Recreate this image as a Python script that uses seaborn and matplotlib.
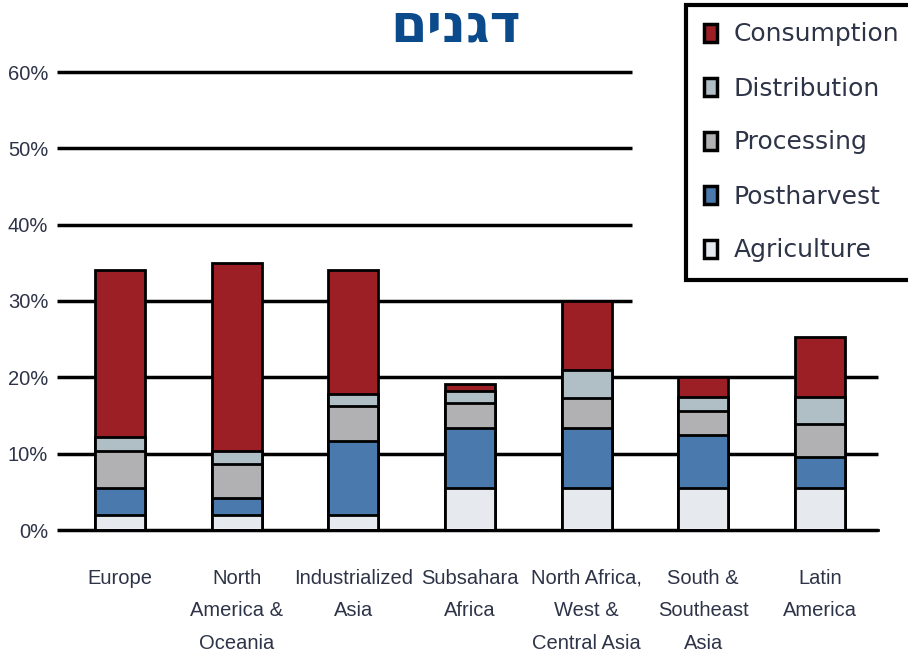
import matplotlib
matplotlib.use("Agg")
import matplotlib.pyplot as plt
from matplotlib.patches import Patch
import seaborn as sns
import pandas as pd
import numpy as np

regions = ["Europe", "North\nAmerica &\nOceania", "Industrialized\nAsia", "Subsahara\nAfrica",
           "North Africa,\nWest &\nCentral Asia", "South &\nSoutheast\nAsia", "Latin\nAmerica"]
stages = ["Agriculture", "Postharvest", "Processing", "Distribution", "Consumption"]
agriculture = [2.0, 2.0, 2.0, 5.5, 5.5, 5.5, 5.5]
postharvest = [3.5, 2.2, 9.7, 7.9, 7.9, 7.0, 4.0]
processing = [4.9, 4.4, 4.5, 3.2, 3.9, 3.1, 4.4]
distribution = [1.8, 1.8, 1.6, 1.6, 3.6, 1.8, 3.5]
consumption = [21.9, 24.6, 16.3, 0.9, 9.1, 2.6, 7.9]
yticks = [0, 10, 20, 30, 40, 50, 60]
ytick_labels = ["0%", "10%", "20%", "30%", "40%", "50%", "60%"]
title = "דגנים"

colors = {"Agriculture": "#e6eaee", "Postharvest": "#4a7aad", "Processing": "#b1b1b3",
          "Distribution": "#b0bec6", "Consumption": "#9b1f24"}

rows = []
series = [agriculture, postharvest, processing, distribution, consumption]
for i, reg in enumerate(regions):
    cum = 0
    for st, vals in zip(stages, series):
        cum += vals[i]
        rows.append({"region": reg, "stage": st, "value": vals[i], "cum": cum})
df = pd.DataFrame(rows)

sns.set_theme(style="white")
plt.rcParams["font.family"] = ["DejaVu Sans"]
tick_font = "Liberation Sans"
txt_color = "#2e3447"

fig = plt.figure(figsize=(9.08, 6.63), dpi=100)
ax = fig.add_axes([62 / 908, 1 - 530 / 663, (878 - 62) / 908, (530 - 72) / 663])

for st in reversed(stages):
    sub = df[df["stage"] == st]
    sns.barplot(data=sub, x="region", y="cum", order=regions, color=colors[st],
                width=0.43, edgecolor="black", linewidth=2, ax=ax, zorder=3, saturation=1)

ax.set_xlim(-0.5, 6.5)
ax.set_ylim(0, 60)
left = -0.5 - 5 / 116.6
for y in yticks:
    right = 6.5 if y <= 20 else (632 - 62) / 116.6 - 0.5
    ax.hlines(y, left, right, color="black", linewidth=2.5, zorder=2, clip_on=False)

for s in ["top", "right", "left"]:
    ax.spines[s].set_visible(False)
ax.spines["bottom"].set_color("black")
ax.spines["bottom"].set_linewidth(2)
ax.spines["bottom"].set_zorder(4)

ax.set_yticks(yticks)
ax.set_yticklabels(ytick_labels)
ax.tick_params(axis="y", length=0, pad=10, labelsize=14.5, labelcolor=txt_color)
for lab in ax.get_yticklabels():
    lab.set_fontfamily(tick_font)
ax.set_xticks(range(len(regions)))
ax.set_xticklabels(regions)
ax.set_xticks(np.arange(-0.5, 7, 1), minor=True)
ax.tick_params(axis="x", which="major", length=0, pad=28, labelsize=14.5, labelcolor=txt_color)
ax.tick_params(axis="x", which="minor", length=8, width=2, color="black", direction="out")
for lab in ax.get_xticklabels():
    lab.set_fontfamily(tick_font)
    lab.set_verticalalignment("top")
    lab.set_linespacing(1.9)
ax.set_xlabel("")
ax.set_ylabel("")

fig.text(456 / 908, 1 - 1 / 663, title[::-1], ha="center", va="top", fontsize=38,
         fontweight="bold", color="#0b4a8b")

handles = [Patch(facecolor=colors[s], edgecolor="black", linewidth=2.5, label=s)
           for s in reversed(stages)]
leg = fig.legend(handles=handles, loc="upper left", bbox_to_anchor=(686 / 908, 1 - 5 / 663),
                 frameon=True, fontsize=18, handlelength=0.55, handleheight=0.75,
                 handletextpad=0.65, labelspacing=1.2, borderpad=0.7, borderaxespad=0,
                 fancybox=False, framealpha=1, labelcolor=txt_color)
leg.get_frame().set_edgecolor("black")
leg.get_frame().set_linewidth(3)

fig.savefig("out.png", dpi=100)
